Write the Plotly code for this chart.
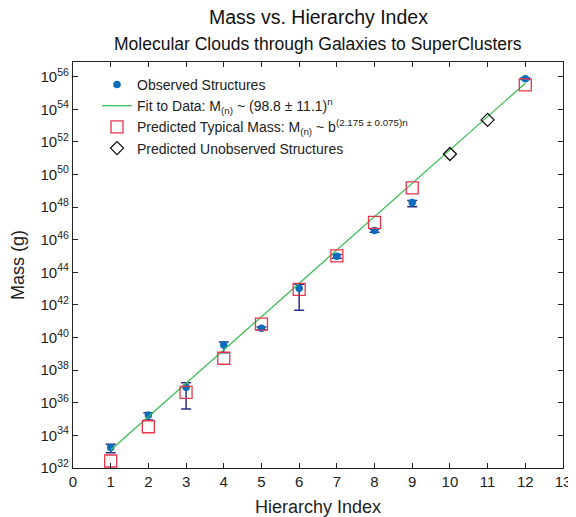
import numpy as np
import plotly.graph_objects as go

# Observed structures (log10 of mass in g)
obs_n = [1, 2, 3, 4, 5, 6, 7, 8, 9, 12]
obs_log = [33.25, 35.25, 36.95, 39.55, 40.57, 43.02, 44.99, 46.56, 48.28, 55.87]
obs_err_plus = [0.20, 0.14, 0.28, 0.18, 0.08, 0.25, 0.10, 0.08, 0.12, 0.05]
obs_err_minus = [0.31, 0.31, 1.33, 0.48, 0.10, 1.35, 0.12, 0.10, 0.25, 0.05]

# Predicted typical mass
pred_n = [1, 2, 3, 4, 5, 6, 7, 8, 9, 12]
pred_log = [32.43, 34.53, 36.64, 38.73, 40.82, 42.96, 45.01, 47.07, 49.18, 55.50]

# Predicted unobserved structures
unobs_n = [10, 11]
unobs_log = [51.26, 53.35]

# Fit line end points
fit_n = [1, 12]
fit_log = [33.10, 55.60]

ytick_exp = list(range(32, 57, 2))
ytick_text = ["10<sup>%d</sup>" % e for e in ytick_exp]

obs_mass = [10.0 ** v for v in obs_log]
obs_hi = [10.0 ** (v + p) - 10.0 ** v for v, p in zip(obs_log, obs_err_plus)]
obs_lo = [10.0 ** v - 10.0 ** (v - m) for v, m in zip(obs_log, obs_err_minus)]

fig = go.Figure()
fig.add_trace(go.Scatter(
    x=obs_n, y=obs_mass, mode="markers", name="Observed Structures",
    marker=dict(color="#0a6ebd", size=7.5, symbol="circle"),
    error_y=dict(type="data", symmetric=False, array=obs_hi, arrayminus=obs_lo,
                 color="#2b2f8c", thickness=1.5, width=5),
))
fig.add_trace(go.Scatter(
    x=fit_n, y=[10.0 ** v for v in fit_log], mode="lines",
    name="Fit to Data: M<sub>(n)</sub> ~ (98.8 ± 11.1)<sup>n</sup>",
    line=dict(color="#3cbe55", width=1.3),
))
fig.add_trace(go.Scatter(
    x=pred_n, y=[10.0 ** v for v in pred_log], mode="markers",
    name="Predicted Typical Mass: M<sub>(n)</sub> ~ b<sup>(2.175 ± 0.075)n</sup>",
    marker=dict(color="rgba(0,0,0,0)", size=12, symbol="square",
                line=dict(color="#e8364c", width=1.3)),
))
fig.add_trace(go.Scatter(
    x=unobs_n, y=[10.0 ** v for v in unobs_log], mode="markers",
    name="Predicted Unobserved Structures",
    marker=dict(color="rgba(0,0,0,0)", size=10, symbol="diamond",
                line=dict(color="#111111", width=1.3)),
))

axis_common = dict(
    showline=True, linecolor="#222222", linewidth=1.2, mirror="ticks",
    ticks="inside", ticklen=5, tickcolor="#222222", showgrid=False, zeroline=False,
    tickfont=dict(size=15, color="#222222"), automargin=False,
)
fig.update_xaxes(range=[0, 13], tickmode="array", tickvals=list(range(0, 14)),
                 title=dict(text="Hierarchy Index", font=dict(size=18, color="#222222"), standoff=14),
                 **axis_common)
fig.update_yaxes(type="log", range=[32, 56.9], tickmode="array",
                 tickvals=[10.0 ** e for e in ytick_exp], ticktext=ytick_text,
                 title=dict(text="Mass (g)", font=dict(size=18, color="#222222")),
                 **axis_common)

# the page body adds an 8px margin, so the figure is sized to fit the window
fig.update_layout(
    width=568, height=509,
    margin=dict(l=65, r=13, t=54, b=49),
    paper_bgcolor="white", plot_bgcolor="white",
    font=dict(family="Liberation Sans, Arial, sans-serif", color="#222222"),
    showlegend=True,
    legend=dict(x=0.049, y=0.983, xanchor="left", yanchor="top",
                bgcolor="rgba(0,0,0,0)", font=dict(size=14, color="#222222"),
                tracegroupgap=0, itemwidth=30),
    annotations=[
        dict(text="Mass vs. Hierarchy Index", xref="paper", yref="paper",
             x=0.5, y=1, yshift=45, showarrow=False, font=dict(size=19.5, color="#111111"),
             yanchor="middle"),
        dict(text="Molecular Clouds through Galaxies to SuperClusters", xref="paper", yref="paper",
             x=0.5, y=1, yshift=18, showarrow=False, font=dict(size=17.5, color="#111111"),
             yanchor="middle"),
    ],
)

fig.write_html("out.html")
